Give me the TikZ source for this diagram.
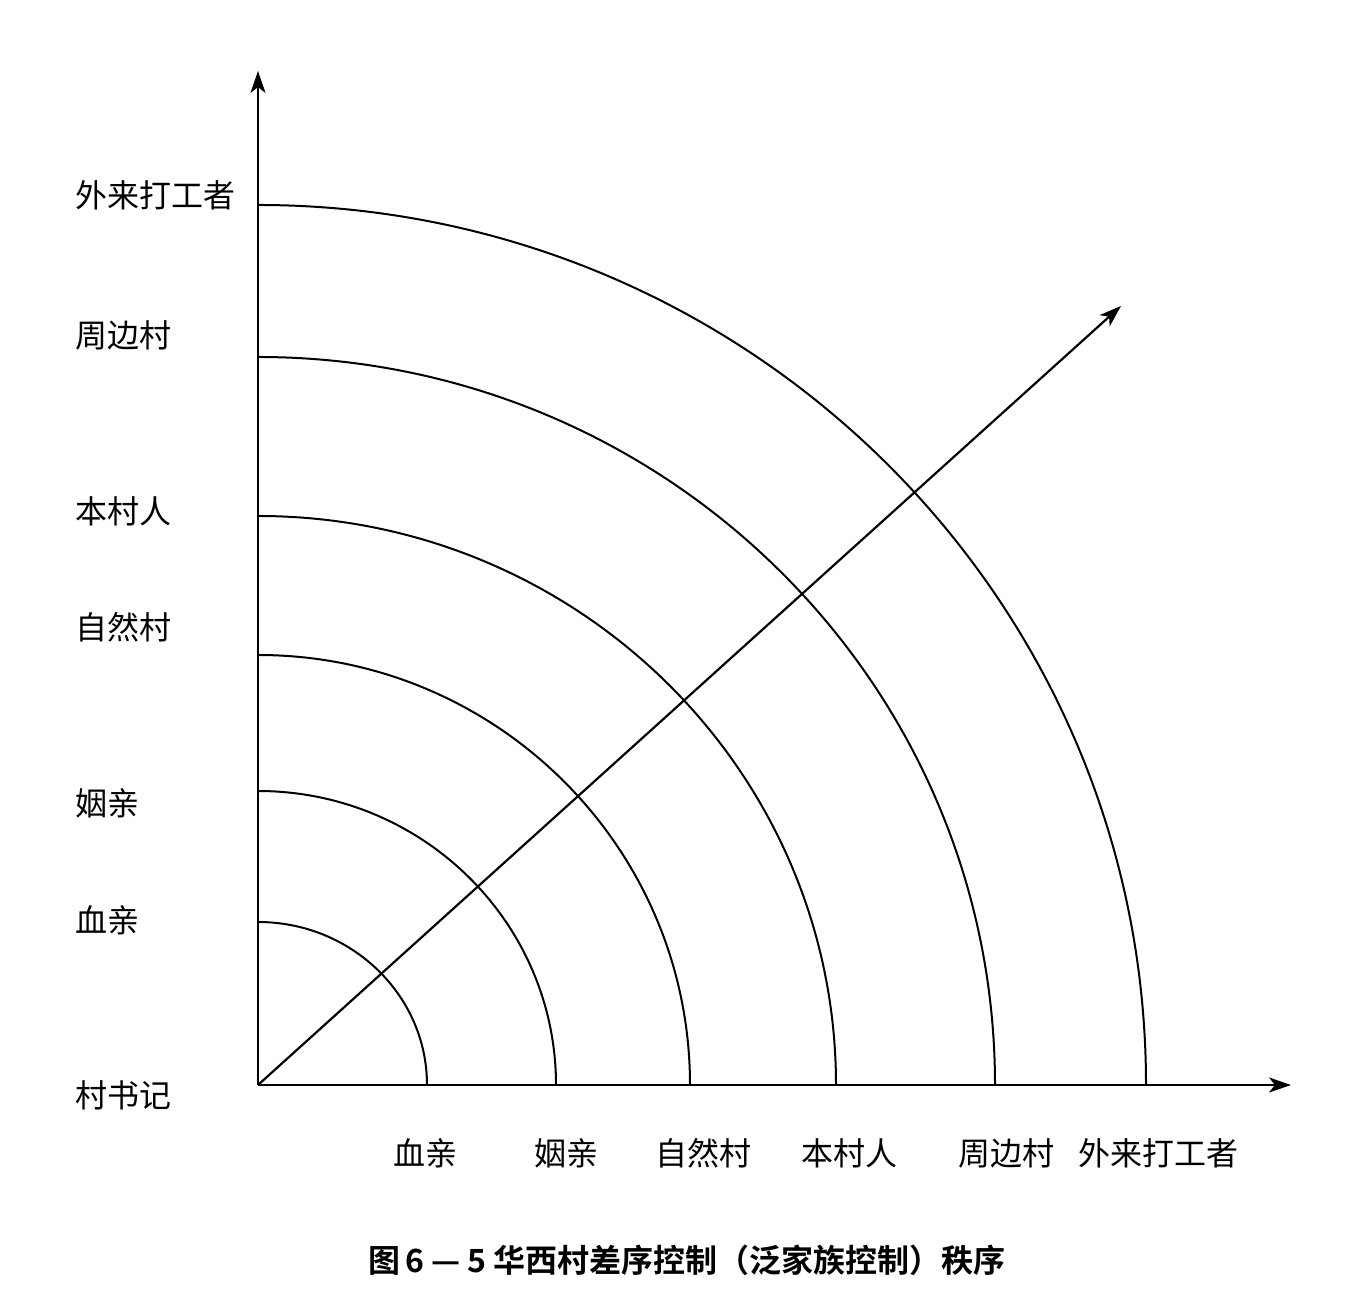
\documentclass[tikz,border=0pt]{standalone}
\usepackage{fontspec}
\newfontfamily\cjk{Noto Sans CJK SC}
\newfontfamily\cjkb{Noto Sans CJK SC Bold}
\usetikzlibrary{arrows.meta}
\begin{document}
\begin{tikzpicture}[x=1pt,y=1pt,
  axis/.style={line width=2.2pt,-{Stealth[length=22pt,width=15pt,inset=6pt]}},
  ring/.style={line width=2pt},
  lab/.style={font=\cjk\fontsize{32}{32}\selectfont,inner sep=0pt},
  captext/.style={font=\cjkb\fontsize{32}{32}\selectfont,inner sep=0pt}]
\useasboundingbox (0,0) rectangle (1364,1300);
\coordinate (O) at (258,215);
\coordinate (Ytip) at (258,1229);
\coordinate (Xtip) at (1291,215);
\coordinate (Dtip) at (1121,994);
% rings
\draw[ring] (258+169,215) arc[start angle=0,end angle=90,x radius=169,y radius=163];
\draw[ring] (258+298,215) arc[start angle=0,end angle=90,x radius=298,y radius=294];
\draw[ring] (258+432,215) arc[start angle=0,end angle=90,x radius=432,y radius=430];
\draw[ring] (258+578,215) arc[start angle=0,end angle=90,x radius=578,y radius=569];
\draw[ring] (258+737,215) arc[start angle=0,end angle=90,x radius=737,y radius=728];
\draw[ring] (258+888,215) arc[start angle=0,end angle=90,x radius=888,y radius=880];
% axes
\draw[axis] (O) -- (Ytip);
\draw[axis] (O) -- (Xtip);
\draw[axis] (O) -- (Dtip);
% left labels
\node[lab,anchor=west] (l6) at (75,1105) {外来打工者};
\node[lab,anchor=west] (l5) at (75,965) {周边村};
\node[lab,anchor=west] (l4) at (75,789) {本村人};
\node[lab,anchor=west] (l3) at (75,673) {自然村};
\node[lab,anchor=west] (l2) at (75,497) {姻亲};
\node[lab,anchor=west] (l1) at (75,380) {血亲};
\node[lab,anchor=west] (l0) at (75,205) {村书记};
% bottom labels
\node[lab] (b1) at (425,147) {血亲};
\node[lab] (b2) at (566,147) {姻亲};
\node[lab] (b3) at (703,147) {自然村};
\node[lab] (b4) at (849,147) {本村人};
\node[lab] (b5) at (1006,147) {周边村};
\node[lab] (b6) at (1158,147) {外来打工者};
% caption
\node[captext] (caption) at (687,40) {图\,6 — 5 华西村差序控制（泛家族控制）秩序};
\end{tikzpicture}
\end{document}
